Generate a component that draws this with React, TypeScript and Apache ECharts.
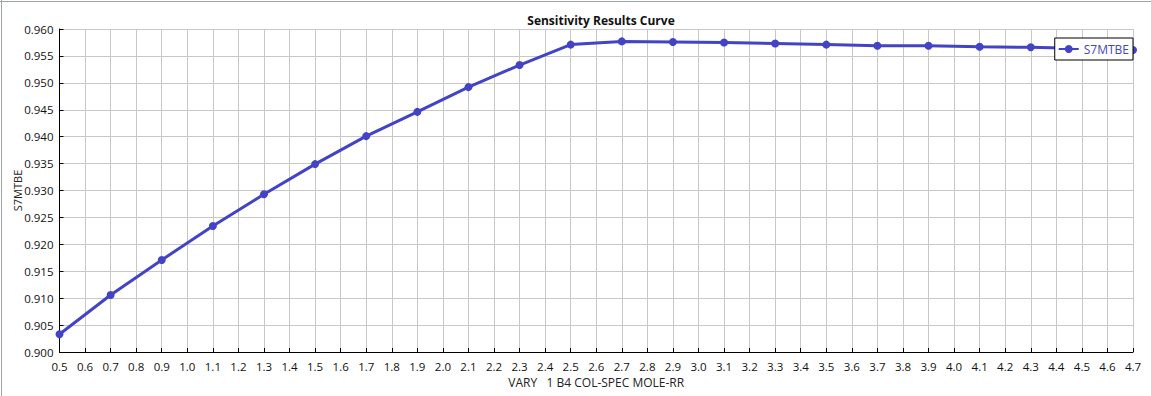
import React, { useEffect, useRef } from "react";
import * as echarts from "echarts";

const xValues = [0.5, 0.7, 0.9, 1.1, 1.3, 1.5, 1.7, 1.9, 2.1, 2.3, 2.5, 2.7, 2.9, 3.1, 3.3, 3.5, 3.7, 3.9, 4.1, 4.3, 4.5, 4.7];
const s7mtbe = [0.9033, 0.9106, 0.9171, 0.9234, 0.9293, 0.9349, 0.9401, 0.9446, 0.9492, 0.9533, 0.9571, 0.9577, 0.9576, 0.9575, 0.9573, 0.9571, 0.9569, 0.9569, 0.9567, 0.9566, 0.9564, 0.9561];
const seriesName = "S7MTBE";
const titleText = "Sensitivity Results Curve";
const xAxisName = "VARY   1 B4 COL-SPEC MOLE-RR";
const yAxisName = "S7MTBE";

const FONT = "'Open Sans', 'Noto Sans', sans-serif";
const LINE_COLOR = "#4343c6";

export default function App() {
  const ref = useRef<HTMLDivElement>(null);
  useEffect(() => {
    document.body.style.margin = "0";
    if (!ref.current) return;
    const chart = echarts.init(ref.current, undefined, { renderer: "svg" });
    chart.setOption({
      animation: false,
      backgroundColor: "#ffffff",
      textStyle: { fontFamily: FONT },
      title: {
        text: titleText,
        left: 596,
        textAlign: "center",
        top: 9,
        textStyle: { fontSize: 12, fontWeight: "bold", color: "#111", fontFamily: FONT },
      },
      graphic: [
        { type: "line", shape: { x1: 0, y1: 1.5, x2: 1151, y2: 1.5 }, style: { stroke: "#9ea3a8", lineWidth: 1 }, silent: true },
        { type: "line", shape: { x1: 1.5, y1: 0, x2: 1.5, y2: 396 }, style: { stroke: "#9ea3a8", lineWidth: 1 }, silent: true },
      ],
      grid: { left: 59.5, right: 18, top: 29, bottom: 44, containLabel: false, outerBoundsMode: "none" },
      legend: {
        data: [seriesName],
        right: 18,
        top: 38,
        orient: "vertical",
        backgroundColor: "#ffffff",
        borderColor: "#000000",
        borderWidth: 1,
        borderRadius: 0,
        padding: [5, 4, 5, 3],
        itemWidth: 20,
        itemHeight: 10,
        itemGap: 4,
        textStyle: { color: LINE_COLOR, fontSize: 12, fontFamily: FONT },
      },
      xAxis: {
        type: "value",
        min: 0.5,
        max: 4.7,
        interval: 0.1,
        name: xAxisName,
        nameLocation: "middle",
        nameGap: 24,
        nameMoveOverlap: false,
        nameTextStyle: { fontSize: 12, color: "#222", fontFamily: FONT },
        axisLine: { onZero: false, lineStyle: { color: "#000", width: 1 } },
        axisTick: { inside: true, length: 4, lineStyle: { color: "#000" } },
        axisLabel: {
          fontSize: 11.5,
          color: "#111",
          margin: 8,
          formatter: (v: number) => v.toFixed(1),
        },
        splitLine: { show: true, lineStyle: { color: "#c8c8c8", width: 1 } },
      },
      yAxis: {
        type: "value",
        min: 0.9,
        max: 0.96,
        interval: 0.005,
        name: yAxisName,
        nameLocation: "middle",
        nameGap: 37,
        nameMoveOverlap: false,
        nameRotate: 90,
        nameTextStyle: { fontSize: 11, color: "#222", fontFamily: FONT },
        axisLine: { show: true, onZero: false, lineStyle: { color: "#000", width: 1 } },
        axisTick: { show: true, inside: true, length: 4, lineStyle: { color: "#000" } },
        axisLabel: {
          fontSize: 11.5,
          color: "#111",
          margin: 6,
          formatter: (v: number) => v.toFixed(3),
        },
        splitLine: { show: true, lineStyle: { color: "#c8c8c8", width: 1 } },
      },
      series: [
        {
          name: seriesName,
          type: "line",
          data: xValues.map((x, i) => [x, s7mtbe[i]]),
          symbol: "circle",
          symbolSize: 8,
          showAllSymbol: true,
          clip: false,
          lineStyle: { color: LINE_COLOR, width: 3 },
          itemStyle: { color: LINE_COLOR },
          z: 2,
        },
      ],
    });
    return () => chart.dispose();
  }, []);
  return <div ref={ref} style={{ width: 1151, height: 396 }} />;
}
